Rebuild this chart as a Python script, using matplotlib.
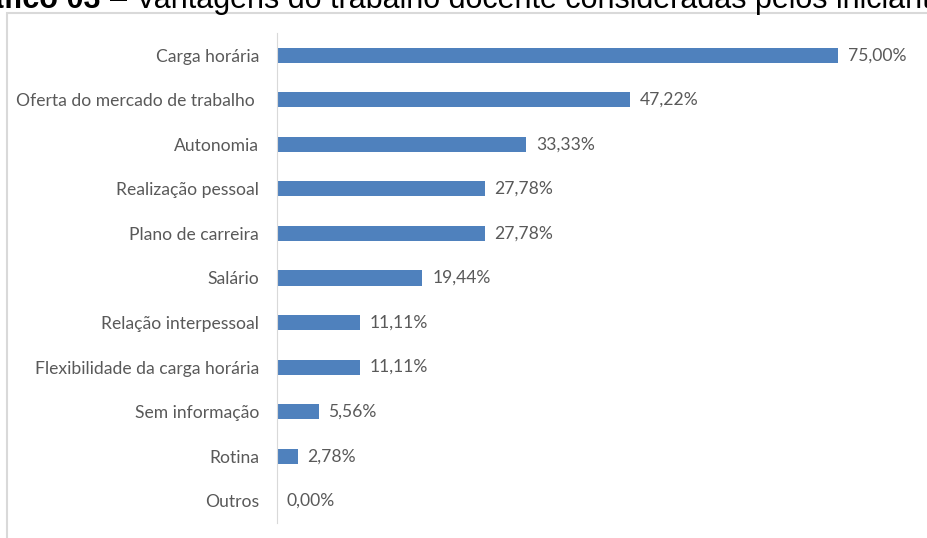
import matplotlib.pyplot as plt
from matplotlib.patches import Rectangle

categories = [
    "Carga horária",
    "Oferta do mercado de trabalho ",
    "Autonomia",
    "Realização pessoal",
    "Plano de carreira",
    "Salário",
    "Relação interpessoal",
    "Flexibilidade da carga horária",
    "Sem informação",
    "Rotina",
    "Outros",
]
values = [75.00, 47.22, 33.33, 27.78, 27.78, 19.44, 11.11, 11.11, 5.56, 2.78, 0.00]
value_labels = ["75,00%", "47,22%", "33,33%", "27,78%", "27,78%", "19,44%",
                "11,11%", "11,11%", "5,56%", "2,78%", "0,00%"]

W, H = 928, 538
fig = plt.figure(figsize=(W / 100, H / 100), dpi=100)

# outer chart frame (cropped by the screenshot on right and bottom)
fig.patches.append(Rectangle((7 / W, -0.05), 1.2, 1 - 13 / H + 0.05,
                             transform=fig.transFigure, fill=False,
                             edgecolor="#d9d9d9", linewidth=1.5))

# title, cut off at the top
fig.text(101 / W, 1 - 8 / H, "Gráfico 03", ha="right", va="baseline",
         fontsize=22, fontweight="bold", family="Liberation Sans", color="black")
fig.text(110 / W, 1 - 8 / H, "– Vantagens do trabalho docente consideradas pelos iniciantes",
         ha="left", va="baseline", fontsize=22, family="Liberation Sans", color="black")

ax_left, ax_top, ax_bottom = 277, 33, 523
ax = fig.add_axes([ax_left / W, 1 - ax_bottom / H, (W - ax_left) / W, (ax_bottom - ax_top) / H])

y = list(range(len(categories)))
ax.barh(y, values, height=0.34, color="#4f81bd")
ax.set_ylim(len(categories) - 0.5, -0.5)
ax.set_xlim(0, (W - ax_left) / 7.48)

for yi, v, lab in zip(y, values, value_labels):
    ax.annotate(lab, (v, yi), xytext=(7, 0), textcoords="offset points",
                ha="left", va="center", fontsize=12.6, family="Lato", color="#595959")

ax.set_yticks(y)
ax.set_yticklabels(categories, fontsize=12.6, family="Lato", color="#595959")
ax.tick_params(axis="y", length=0, pad=13)
ax.set_xticks([])
for s in ["top", "right", "bottom"]:
    ax.spines[s].set_visible(False)
ax.spines["left"].set_color("#d9d9d9")
ax.patch.set_alpha(0)

fig.savefig("out.png", dpi=100)
